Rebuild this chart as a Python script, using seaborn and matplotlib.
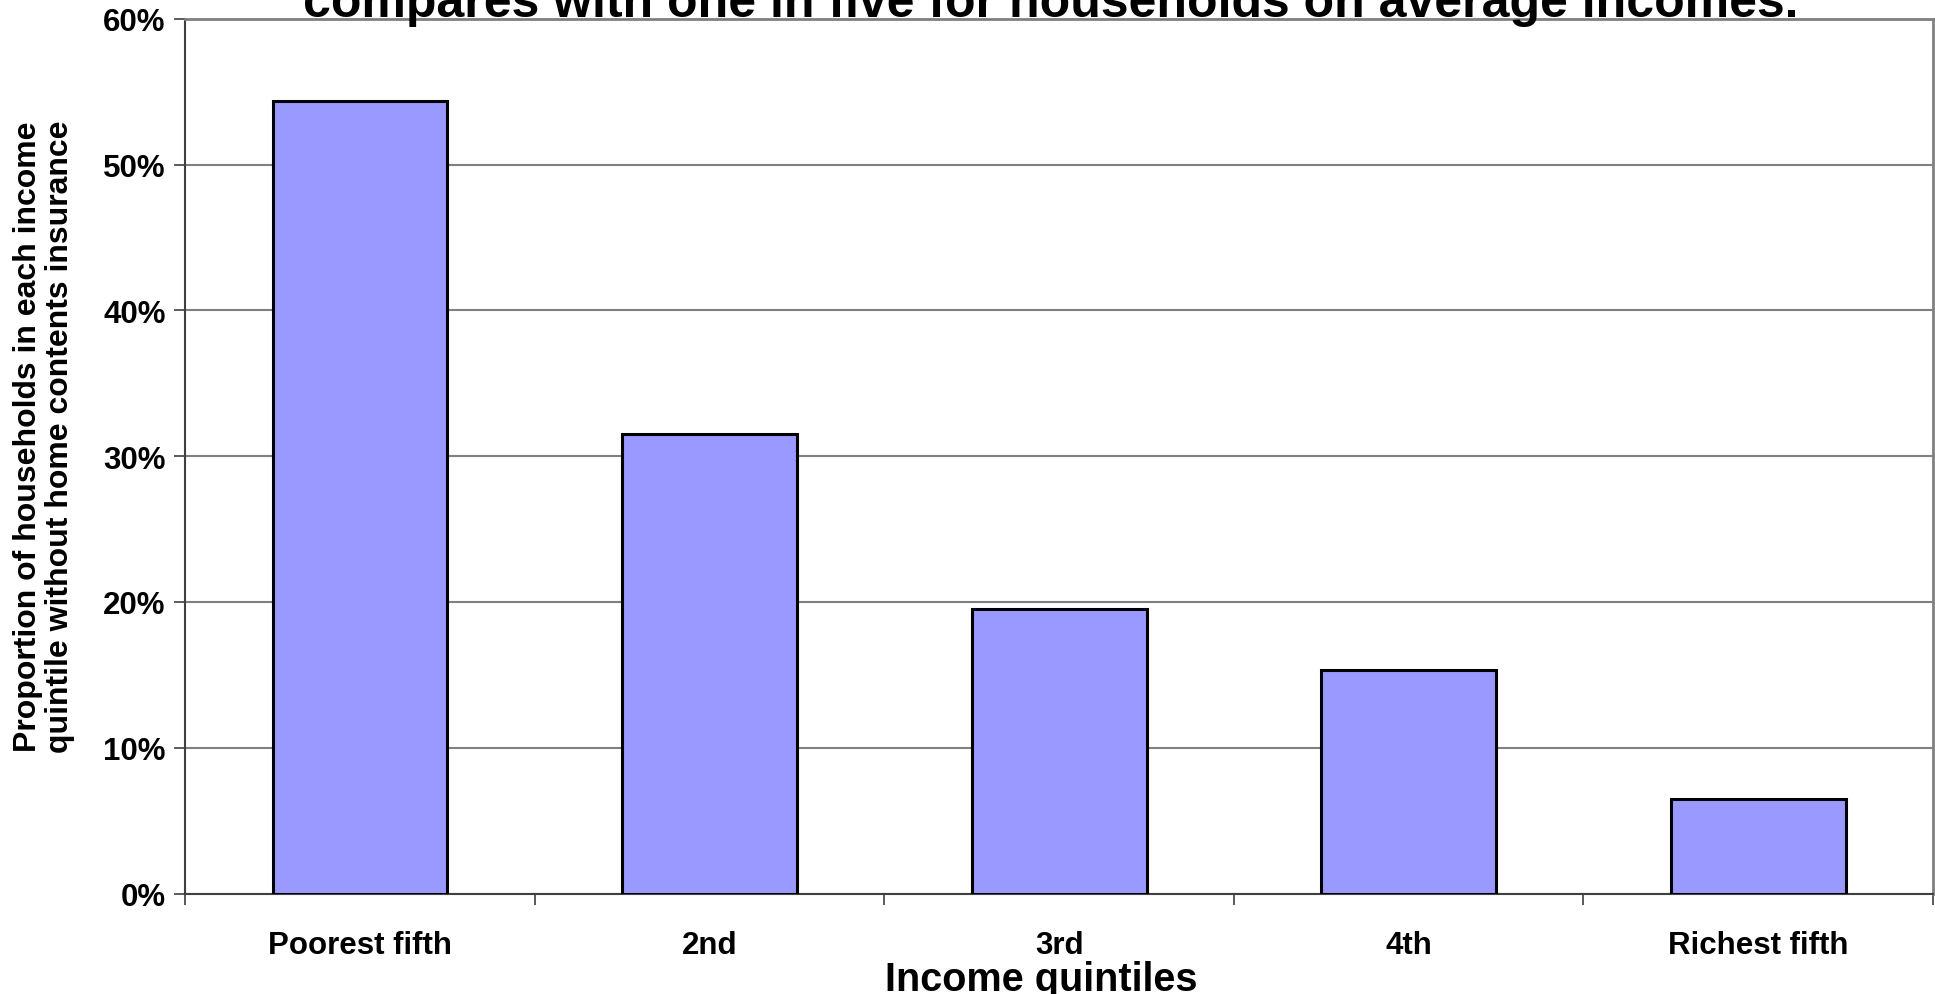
import matplotlib
matplotlib.use("Agg")
import matplotlib.pyplot as plt
import seaborn as sns
import pandas as pd
from matplotlib.ticker import FixedLocator, FuncFormatter

# values (share of households without contents insurance, %)
quintiles = ["Poorest fifth", "2nd", "3rd", "4th", "Richest fifth"]
no_insurance = [54.4, 31.5, 19.5, 15.3, 6.5]
y_ticks = [0, 10, 20, 30, 40, 50, 60]

title_line = "compares with one in five for households on average incomes."
x_title = "Income quintiles"
y_title = "Proportion of households in each income\nquintile without home contents insurance"

df = pd.DataFrame({"quintile": quintiles, "pct": no_insurance})

sns.set_style("white")
plt.rcParams["font.family"] = ["Liberation Sans", "DejaVu Sans"]
plt.rcParams["font.weight"] = "bold"
plt.rcParams["text.color"] = "black"
plt.rcParams["axes.labelcolor"] = "black"
plt.rcParams["xtick.color"] = "black"
plt.rcParams["ytick.color"] = "black"

fig = plt.figure(figsize=(19.35, 9.95), dpi=100)
ax = fig.add_axes([0.0957, 0.101, 0.9033, 0.879])

sns.barplot(data=df, x="quintile", y="pct", color="#9999FF", saturation=1,
            edgecolor="black", linewidth=2.2, width=0.5, ax=ax, zorder=3)

ax.set_ylim(0, 60)
ax.set_xlim(-0.5, len(quintiles) - 0.5)
ax.set_yticks(y_ticks)
ax.yaxis.set_major_formatter(FuncFormatter(lambda v, p: f"{v:.0f}%"))
ax.grid(axis="y", color="#808080", linewidth=1.5, zorder=0)
ax.set_axisbelow(True)

# x ticks at category boundaries, labels at centres
ax.xaxis.set_major_locator(FixedLocator([i - 0.5 for i in range(len(quintiles) + 1)]))
ax.xaxis.set_major_formatter(FuncFormatter(lambda v, p: ""))
ax.xaxis.set_minor_locator(FixedLocator(list(range(len(quintiles)))))
ax.set_xticklabels(quintiles, minor=True)
ax.tick_params(axis="x", which="major", length=8, width=1.2, color="#404040", direction="out")
ax.tick_params(axis="x", which="minor", length=0, pad=26, labelsize=22.5)
ax.tick_params(axis="y", length=8, width=1.2, color="#404040", labelsize=22.5, pad=6)
ax.tick_params(left=True, bottom=True)

for s in ["left", "bottom"]:
    ax.spines[s].set_color("#404040")
    ax.spines[s].set_linewidth(1.5)
for s in ["top", "right"]:
    ax.spines[s].set_color("#808080")
    ax.spines[s].set_linewidth(2)

ax.set_xlabel(x_title, fontsize=28.5, fontweight="bold", labelpad=0)
ax.xaxis.label.set_x(0.4897)
ax.set_ylabel(y_title, fontsize=23, fontweight="bold", linespacing=1.1)
ax.yaxis.set_label_coords(-0.063, 0.523)

fig.text(0.543, 1 - 17 / 995, title_line, ha="center", va="baseline",
         fontsize=36, fontweight="bold")

fig.savefig("out.png", dpi=100)
